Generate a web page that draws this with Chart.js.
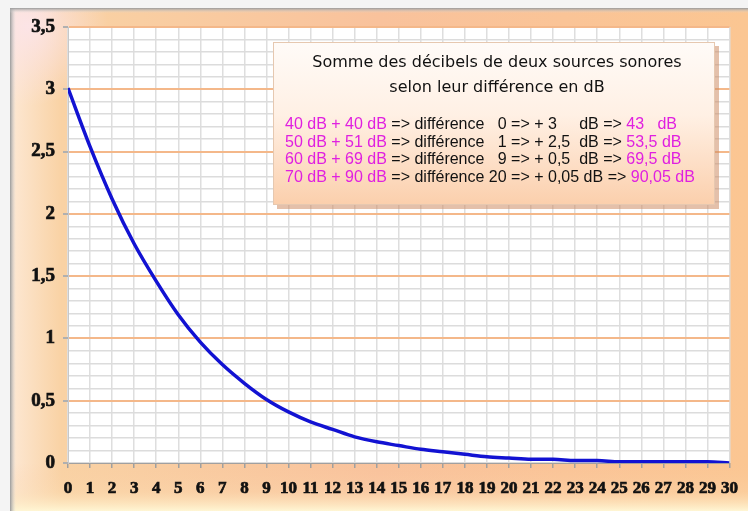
<!DOCTYPE html>
<html>
<head>
<meta charset="utf-8">
<script src="https://cdn.jsdelivr.net/npm/chart.js@4/dist/chart.umd.min.js"></script>
<style>
  body { margin: 0; background: #ffffff; }
  #wrap { width: 748px; height: 511px; position: relative; }
</style>
</head>
<body>
<div id="wrap"><canvas id="myChart"></canvas></div>
<script>
// difference between the two sources, in dB
const differences = [0, 1, 2, 3, 4, 5, 6, 7, 8, 9, 10, 11, 12, 13, 14, 15,
    16, 17, 18, 19, 20, 21, 22, 23, 24, 25, 26, 27, 28, 29, 30];
// dB to add to the louder source
const addedDb = [3.01, 2.54, 2.12, 1.76, 1.46, 1.19, 0.97, 0.79, 0.64, 0.51, 0.41,
    0.33, 0.27, 0.21, 0.17, 0.14, 0.11, 0.09, 0.07, 0.05, 0.04,
    0.03, 0.03, 0.02, 0.02, 0.01, 0.01, 0.01, 0.01, 0.01, 0.00];

const boxTitle = ['Somme des décibels de deux sources sonores', 'selon leur différence en dB'];
// each line: [magenta, black, magenta]
const boxLines = [
    ['40 dB + 40 dB', ' => différence   0 => + 3     dB => ', '43   dB'],
    ['50 dB + 51 dB', ' => différence   1 => + 2,5  dB => ', '53,5 dB'],
    ['60 dB + 69 dB', ' => différence   9 => + 0,5  dB => ', '69,5 dB'],
    ['70 dB + 90 dB', ' => différence 20 => + 0,05 dB => ', '90,05 dB']
];

const isMajor = v => Math.round(v * 10) % 5 === 0;

const framePlugin = {
    id: 'frame',
    beforeDraw(chart) {
        const ctx = chart.ctx;
        const a = chart.chartArea;
        const W = chart.width, H = chart.height;
        ctx.save();
        ctx.fillStyle = '#f4f4f4';
        ctx.fillRect(0, 0, W, H);

        // main frame gradient
        let g = ctx.createLinearGradient(10, 0, W, 0);
        g.addColorStop(0, '#fde8d4');
        g.addColorStop(0.07, '#f9d2a4');
        g.addColorStop(0.5, '#f9c29c');
        g.addColorStop(1, '#fbc692');
        ctx.fillStyle = g;
        ctx.fillRect(10, 8, W - 10, H - 8);

        // top-left soft pink corner
        let rg = ctx.createRadialGradient(28, 26, 0, 28, 26, 80);
        rg.addColorStop(0, 'rgba(252,228,232,0.95)');
        rg.addColorStop(1, 'rgba(252,228,232,0)');
        ctx.fillStyle = rg;
        ctx.fillRect(10, 8, 120, 120);

        // bottom band
        g = ctx.createLinearGradient(0, a.bottom, 0, H);
        g.addColorStop(0, 'rgba(250,200,160,0)');
        g.addColorStop(0.6, 'rgba(252,222,180,0.3)');
        g.addColorStop(1, 'rgba(255,246,212,1)');
        ctx.fillStyle = g;
        ctx.fillRect(10, a.bottom, W - 10, H - a.bottom);

        // frame border
        g = ctx.createLinearGradient(10, 0, 16, 0);
        g.addColorStop(0, '#9a9a9a');
        g.addColorStop(1, 'rgba(220,220,220,0)');
        ctx.fillStyle = g;
        ctx.fillRect(10, 8, 6, H);
        g = ctx.createLinearGradient(0, 8, 0, 13);
        g.addColorStop(0, '#9a9a9a');
        g.addColorStop(1, 'rgba(220,220,220,0)');
        ctx.fillStyle = g;
        ctx.fillRect(10, 8, W, 5);

        // plot area
        ctx.fillStyle = '#ffffff';
        ctx.fillRect(a.left, a.top, a.right - a.left, a.bottom - a.top);
        ctx.restore();
    },
    afterDraw(chart) {
        const ctx = chart.ctx;
        const x = 273, y = 42, w = 442, h = 163;
        ctx.save();
        // shadow
        ctx.fillStyle = 'rgba(205,140,100,0.55)';
        ctx.fillRect(x + 4, y + 4, w, h);
        let g = ctx.createLinearGradient(0, y, 0, y + h);
        g.addColorStop(0, '#fffbf8');
        g.addColorStop(0.45, '#fff0e4');
        g.addColorStop(1, '#fbcfac');
        ctx.fillStyle = g;
        ctx.fillRect(x, y, w, h);
        ctx.strokeStyle = '#e6c8b0';
        ctx.lineWidth = 1;
        ctx.strokeRect(x + 0.5, y + 0.5, w - 1, h - 1);

        ctx.fillStyle = '#111111';
        ctx.textAlign = 'center';
        ctx.textBaseline = 'middle';
        ctx.font = '16px "DejaVu Sans"';
        ctx.fillText(boxTitle[0], x + w / 2 + 3, 63);
        ctx.fillText(boxTitle[1], x + w / 2 + 3, 88);

        ctx.textAlign = 'left';
        ctx.font = '16px "Liberation Sans"';
        const colors = ['#e020e0', '#111111', '#e020e0'];
        boxLines.forEach((parts, i) => {
            let cx = 285;
            const cy = 125 + i * 17.5;
            parts.forEach((p, j) => {
                ctx.fillStyle = colors[j];
                ctx.fillText(p, cx, cy);
                cx += ctx.measureText(p).width;
            });
        });
        ctx.restore();
    }
};

const points = differences.map((d, i) => ({ x: d, y: addedDb[i] }));

const ctx = document.getElementById('myChart').getContext('2d');
const myChart = new Chart(ctx, {
    type: 'line',
    data: {
        datasets: [{
            label: 'dB',
            data: points,
            borderColor: '#1212d2',
            borderWidth: 3.5,
            pointRadius: 0,
            cubicInterpolationMode: 'monotone',
            fill: false
        }]
    },
    options: {
        responsive: true,
        maintainAspectRatio: false,
        animation: false,
        layout: { padding: { left: 10, right: 13, top: 27, bottom: 0 } },
        plugins: {
            legend: { display: false },
            tooltip: { enabled: false }
        },
        scales: {
            x: {
                type: 'linear',
                min: 0,
                max: 30,
                afterFit: s => { s.height = 48; },
                border: { color: '#a0a0a0', width: 1 },
                grid: { color: '#dedede', lineWidth: 1.5, tickLength: 5, tickColor: '#a0a0a0' },
                ticks: {
                    stepSize: 1,
                    autoSkip: false,
                    maxRotation: 0,
                    padding: 10,
                    color: '#111111',
                    textStrokeColor: '#111111',
                    textStrokeWidth: 0.7,
                    font: { family: '"Liberation Serif", "DejaVu Serif", serif', size: 17, weight: 'bold' }
                }
            },
            y: {
                min: 0,
                max: 3.5,
                afterFit: s => { s.width = 58; },
                border: { color: '#c8c8c8', width: 1 },
                grid: {
                    color: c => (c.tick && isMajor(c.tick.value) && c.tick.value > 0) ? '#f4b88a' : '#dcdcdc',
                    lineWidth: c => (c.tick && isMajor(c.tick.value)) ? 2 : 1.5,
                    tickLength: 5,
                    tickColor: c => (c.tick && isMajor(c.tick.value)) ? '#b0b0b0' : 'rgba(0,0,0,0)'
                },
                ticks: {
                    stepSize: 0.1,
                    autoSkip: false,
                    padding: 8,
                    color: '#111111',
                    textStrokeColor: '#111111',
                    textStrokeWidth: 0.7,
                    font: { family: '"Liberation Serif", "DejaVu Serif", serif', size: 19, weight: 'bold' },
                    callback: v => isMajor(v) ? String(Math.round(v * 10) / 10).replace('.', ',') : ''
                }
            }
        }
    },
    plugins: [framePlugin]
});
</script>
</body>
</html>
